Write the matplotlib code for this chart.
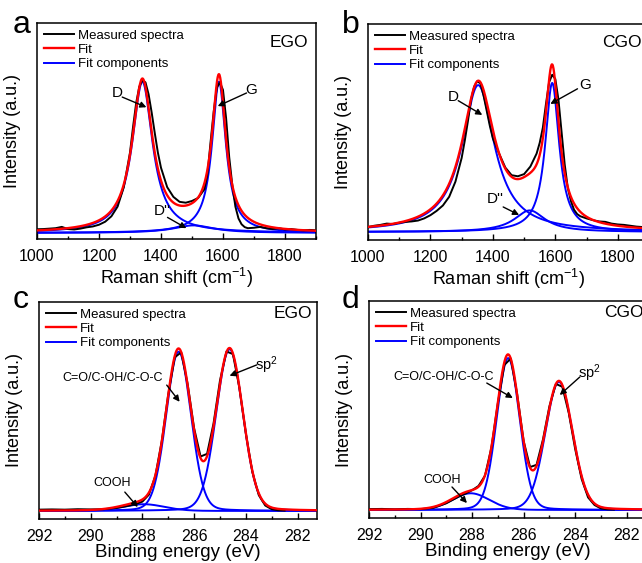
import numpy as np
import matplotlib.pyplot as plt

plt.rcParams['font.family'] = ['Liberation Sans', 'DejaVu Sans']
plt.rcParams['mathtext.fontset'] = 'custom'
plt.rcParams['mathtext.rm'] = 'Liberation Sans'
plt.rcParams['mathtext.it'] = 'Liberation Sans:italic'

# ---- Raman data (panels a, b), intensity in arbitrary units ----
raman_shift = [1000, 1020, 1040, 1060, 1080, 1100, 1120, 1140, 1160, 1180, 1200, 1220, 1240, 1260, 1280, 1300,
               1310, 1320, 1330, 1340, 1350, 1360, 1370, 1380, 1390, 1400,
               1420, 1440, 1460, 1480, 1500, 1520, 1540,
               1550, 1560, 1570, 1580, 1590, 1600, 1610, 1620, 1630, 1640, 1650, 1660, 1670, 1680,
               1700, 1720, 1740, 1760, 1780, 1800, 1820, 1840, 1860, 1880, 1900]
ego_raman = [0.045, 0.046, 0.048, 0.050, 0.056, 0.046, 0.044, 0.048, 0.054, 0.058, 0.066, 0.080, 0.105, 0.150, 0.240, 0.400,
             0.520, 0.630, 0.705, 0.735, 0.725, 0.670, 0.585, 0.490, 0.400, 0.330,
             0.240, 0.195, 0.172, 0.168, 0.176, 0.190, 0.230,
             0.300, 0.450, 0.590, 0.700, 0.725, 0.690, 0.560, 0.380, 0.250, 0.150, 0.095, 0.068, 0.055, 0.050,
             0.052, 0.056, 0.050, 0.046, 0.050, 0.044, 0.046, 0.042, 0.040, 0.042, 0.040]
cgo_raman = [0.060, 0.066, 0.070, 0.076, 0.074, 0.080, 0.084, 0.086, 0.090, 0.100, 0.115, 0.135, 0.160, 0.200, 0.270, 0.380,
             0.460, 0.550, 0.650, 0.710, 0.735, 0.725, 0.670, 0.600, 0.530, 0.470,
             0.400, 0.335, 0.300, 0.295, 0.305, 0.340, 0.400,
             0.450, 0.520, 0.630, 0.730, 0.765, 0.745, 0.650, 0.500, 0.350, 0.240, 0.180, 0.140, 0.120, 0.110,
             0.100, 0.092, 0.086, 0.084, 0.076, 0.072, 0.070, 0.066, 0.062, 0.060, 0.058]

# Lorentzian fit components: D, G, D''
ego_raman_center = [1340, 1587, 1505]
ego_raman_height = [0.70, 0.70, 0.035]
ego_raman_hwhm = [40, 27, 80]
ego_raman_base = 0.028
cgo_raman_center = [1353, 1590, 1518]
cgo_raman_height = [0.68, 0.69, 0.10]
cgo_raman_hwhm = [63, 27, 60]
cgo_raman_base = 0.037

# ---- XPS C1s data (panels c, d) ----
binding_energy = [292, 291.5, 291, 290.5, 290, 289.5, 289, 288.75, 288.5, 288.25, 288, 287.75, 287.5, 287.25,
                  287, 286.75, 286.5, 286.25, 286, 285.75, 285.5, 285.25, 285, 284.75, 284.5, 284.25, 284,
                  283.75, 283.5, 283.25, 283, 282.75, 282.5]
ego_xps = [0.043, 0.044, 0.043, 0.045, 0.044, 0.045, 0.051, 0.056, 0.062, 0.069, 0.080, 0.112, 0.198, 0.360,
           0.575, 0.745, 0.768, 0.622, 0.418, 0.288, 0.300, 0.440, 0.638, 0.772, 0.760, 0.605, 0.395,
           0.218, 0.110, 0.062, 0.045, 0.040, 0.039]
cgo_xps = [0.041, 0.042, 0.040, 0.042, 0.041, 0.047, 0.068, 0.084, 0.100, 0.113, 0.128, 0.148, 0.195, 0.325,
           0.530, 0.705, 0.735, 0.570, 0.355, 0.235, 0.245, 0.362, 0.515, 0.618, 0.605, 0.485, 0.318,
           0.180, 0.095, 0.060, 0.044, 0.040, 0.039]

# Gaussian-Lorentzian fit components: C=O/C-OH/C-O-C, sp2, COOH
ego_xps_center = [286.6, 284.63, 287.95]
ego_xps_height = [0.734, 0.745, 0.031]
ego_xps_fwhm = [1.13, 1.22, 1.9]
ego_xps_base = 0.037
cgo_xps_center = [286.6, 284.63, 288.05]
cgo_xps_height = [0.70, 0.59, 0.077]
cgo_xps_fwhm = [1.05, 1.25, 1.7]
cgo_xps_base = 0.037
gl_mix = 0.1


def lorentz(x, c, h, g):
    return h / (1 + ((x - c) / g) ** 2)


def gl(x, c, h, w):
    gauss = np.exp(-4 * np.log(2) * (x - c) ** 2 / w ** 2)
    lor = 1 / (1 + 4 * (x - c) ** 2 / w ** 2)
    return h * ((1 - gl_mix) * gauss + gl_mix * lor)


fig = plt.figure(figsize=(6.42, 5.63), dpi=100)

ax_a = fig.add_axes([0.0576, 0.5755, 0.4346, 0.3837])
ax_b = fig.add_axes([0.5732, 0.5737, 0.4377, 0.3837])
ax_c = fig.add_axes([0.0607, 0.0782, 0.4330, 0.3854])
ax_d = fig.add_axes([0.5748, 0.0799, 0.4315, 0.3854])


def draw_panel(ax, x, meas, centers, heights, widths, base, shape, grid):
    total = np.full_like(grid, base)
    for c, h, w in zip(centers, heights, widths):
        comp = shape(grid, c, h, w)
        total += comp
        ax.plot(grid, comp + base, color='#0000ff', lw=1.4, zorder=2)
    ax.plot(x, meas, color='black', lw=1.4, zorder=3, label='Measured spectra')
    ax.plot(grid, total, color='#ff0000', lw=1.7, zorder=4, label='Fit')
    ax.plot([], [], color='#0000ff', lw=1.4, label='Fit components')
    ax.set_ylim(0, 1)
    ax.set_yticks([])
    ax.set_ylabel('Intensity (a.u.)', fontsize=13)
    ax.yaxis.set_label_coords(-0.058, 0.5)
    ax.tick_params(axis='x', which='both', direction='in', labelsize=11.5, pad=7)
    ax.tick_params(axis='x', which='major', length=4, width=1)
    ax.tick_params(axis='x', which='minor', length=2.5, width=1)
    for s in ax.spines.values():
        s.set_linewidth(1.1)
    ax.legend(loc='upper left', bbox_to_anchor=(0.0, 1.0), frameon=False, fontsize=9.5,
              handlelength=2.3, handletextpad=0.3, labelspacing=0.15,
              borderaxespad=0.3, borderpad=0.2)


def arrow(ax, tail, tip):
    ax.annotate('', xy=tip, xytext=tail,
                arrowprops=dict(arrowstyle='-|>', color='black', lw=1.0, mutation_scale=9,
                                shrinkA=0, shrinkB=0), zorder=6)


grid_r = np.linspace(1000, 1900, 901)
grid_x = np.linspace(292, 281.2, 1081)

# panel a
draw_panel(ax_a, raman_shift, ego_raman, ego_raman_center, ego_raman_height, ego_raman_hwhm,
           ego_raman_base, lorentz, grid_r)
# panel b
draw_panel(ax_b, raman_shift, cgo_raman, cgo_raman_center, cgo_raman_height, cgo_raman_hwhm,
           cgo_raman_base, lorentz, grid_r)
# panel c
draw_panel(ax_c, binding_energy, ego_xps, ego_xps_center, ego_xps_height, ego_xps_fwhm,
           ego_xps_base, gl, grid_x)
# panel d
draw_panel(ax_d, binding_energy, cgo_xps, cgo_xps_center, cgo_xps_height, cgo_xps_fwhm,
           cgo_xps_base, gl, grid_x)

for ax in (ax_a, ax_b):
    ax.set_xlim(1000, 1900)
    ax.set_xticks([1000, 1200, 1400, 1600, 1800])
    ax.set_xticks([1100, 1300, 1500, 1700, 1900], minor=True)
    ax.set_xlabel('Raman shift (cm$^{-1}$)', fontsize=13)
    ax.xaxis.set_label_coords(0.5, -0.125)

for ax in (ax_c, ax_d):
    ax.set_xlim(292, 281.25)
    ax.set_xticks([292, 290, 288, 286, 284, 282])
    ax.set_xticks([291, 289, 287, 285, 283], minor=True)
    ax.set_xlabel('Binding energy (eV)', fontsize=13.5)
    ax.xaxis.set_label_coords(0.5, -0.115)

# sample labels
ax_a.text(0.972, 0.91, 'EGO', transform=ax_a.transAxes, ha='right', va='center', fontsize=12.5)
ax_b.text(0.833, 0.915, 'CGO', transform=ax_b.transAxes, ha='left', va='center', fontsize=12.5)
ax_c.text(0.982, 0.945, 'EGO', transform=ax_c.transAxes, ha='right', va='center', fontsize=12.5)
ax_d.text(0.848, 0.945, 'CGO', transform=ax_d.transAxes, ha='left', va='center', fontsize=12.5)

# peak annotations
ax_a.text(1259, 0.676, 'D', ha='center', va='center', fontsize=11)
arrow(ax_a, (1275, 0.657), (1353, 0.61))
ax_a.text(1692, 0.69, 'G', ha='center', va='center', fontsize=11)
arrow(ax_a, (1676, 0.676), (1583, 0.615))
ax_a.text(1405, 0.128, "D''", ha='center', va='center', fontsize=11)
arrow(ax_a, (1421, 0.10), (1482, 0.05))

ax_b.text(1273, 0.66, 'D', ha='center', va='center', fontsize=11)
arrow(ax_b, (1289, 0.645), (1366, 0.579))
ax_b.text(1696, 0.717, 'G', ha='center', va='center', fontsize=11)
arrow(ax_b, (1671, 0.70), (1584, 0.63))
ax_b.text(1407, 0.188, "D''", ha='center', va='center', fontsize=11)
arrow(ax_b, (1433, 0.153), (1484, 0.116))

ax_c.text(289.14, 0.65, 'C=O/C-OH/C-O-C', ha='center', va='center', fontsize=9)
arrow(ax_c, (287.06, 0.617), (286.56, 0.54))
ax_c.text(283.2, 0.71, 'sp$^2$', ha='center', va='center', fontsize=10.5)
arrow(ax_c, (283.58, 0.71), (284.63, 0.66))
ax_c.text(289.18, 0.166, 'COOH', ha='center', va='center', fontsize=9)
arrow(ax_c, (288.68, 0.124), (288.18, 0.055))

ax_d.text(289.11, 0.65, 'C=O/C-OH/C-O-C', ha='center', va='center', fontsize=9)
arrow(ax_d, (287.43, 0.622), (286.42, 0.553))
ax_d.text(283.43, 0.668, 'sp$^2$', ha='center', va='center', fontsize=10.5)
arrow(ax_d, (283.82, 0.65), (284.6, 0.567))
ax_d.text(289.17, 0.175, 'COOH', ha='center', va='center', fontsize=9)
arrow(ax_d, (288.78, 0.143), (288.2, 0.069))

# panel letters
fig.text(0.020, 0.9414, 'a', fontsize=23, va='baseline')
fig.text(0.532, 0.9414, 'b', fontsize=23, va='baseline')
fig.text(0.020, 0.4530, 'c', fontsize=23, va='baseline')
fig.text(0.532, 0.4530, 'd', fontsize=23, va='baseline')

fig.savefig('out.png', dpi=100)
